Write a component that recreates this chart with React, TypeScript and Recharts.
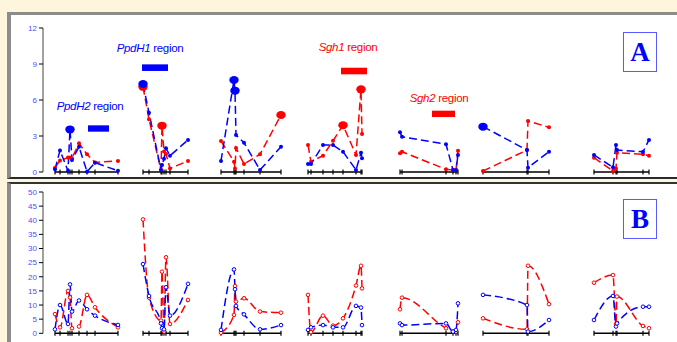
import { LineChart, Line, XAxis, YAxis, ReferenceArea, ReferenceDot } from 'recharts'

const BLUE = '#0000ff'
const RED = '#ff0000'

const chromosomes = ['1H', '2H', '3H', '4H', '5H', '6H', '7H']

// marker positions along the concatenated map, one list per chromosome
const markerPos = [
  [12, 17, 25, 27, 29, 36, 44, 52, 75],
  [100, 106, 118, 119, 121, 123, 127, 145],
  [178, 191, 192, 193, 201, 217, 238],
  [265, 268, 280, 290, 300, 313, 318, 319],
  [357, 359, 403, 410, 413, 415],
  [440, 484, 485, 506],
  [551, 570, 573, 574, 600, 606],
]

// panel A (LOD)
const blueA = [
  [0.22, 1.8, 0.1, 3.55, 1.0, 2.1, 0.03, 0.78, 0.1],
  [7.33, 4.94, 0.17, 0.58, 1.1, 1.97, 1.36, 2.67],
  [0.92, 7.67, 6.78, 3.08, 2.44, 0.17, 2.11],
  [0.67, 0.67, 2.25, 2.25, 1.69, 0.17, 1.61, 1.14],
  [3.31, 2.94, 2.31, 0.17, 0.17, 1.42],
  [3.78, 1.83, 0.36, 1.69],
  [1.42, 0.39, 2.25, 1.83, 1.69, 2.67],
]
const redA = [
  [0.36, 0.95, 1.2, 1.2, 1.15, 2.4, 1.47, 0.8, 0.92],
  [7.1, 4.39, 0.17, 3.86, 1.7, 1.5, 0.3, 0.92],
  [2.58, 0.86, 0.3, 2.0, 0.67, 1.47, 4.75],
  [2.25, 0.86, 1.36, 2.6, 3.9, 1.42, 6.89, 3.17],
  [1.56, 1.69, 0.22, 0.17, 0.17, 1.78],
  [0.08, 1.83, 4.25, 3.72],
  [1.19, 0.08, 0.3, 1.61, 1.47, 1.36],
]
// indices of markers drawn with the large (peak) symbol
const peaksBlueA = [[3], [0], [1, 2], [], [], [0], []]
const peaksRedA = [[], [0, 3], [6], [4, 6], [], [], []]

// panel B (% variance)
const blueB = [
  [1.4, 10.0, 3.3, 17.3, 7.7, 11.6, 8.5, 6.25, 2.95],
  [24.5, 13.2, 3.5, 1.8, 1.4, 16.3, 6.25, 17.5],
  [1.2, 22.6, 15.6, 9.7, 6.7, 1.4, 2.9],
  [1.2, 2.1, 2.9, 2.1, 2.1, 9.7, 9.1, 2.9],
  [3.5, 2.9, 3.5, 0.6, 1.2, 10.6],
  [13.6, 10.0, 0.6, 4.7],
  [4.7, 13.2, 2.4, 3.5, 9.4, 9.4],
]
const redB = [
  [6.8, 2.1, 15.0, 12.7, 1.8, 2.4, 13.6, 9.2, 2.1],
  [40.3, 12.6, 4.5, 21.8, 0.6, 26.9, 3.3, 11.8],
  [0.2, 6.5, 16.7, 11.2, 12.4, 7.7, 7.3],
  [13.6, 0.4, 6.25, 2.7, 5.3, 16.9, 23.9, 15.9],
  [8.5, 12.6, 1.8, 0.6, 0.6, 3.9],
  [5.3, 1.4, 23.9, 10.3],
  [17.9, 20.6, 3.3, 13.0, 2.6, 1.8],
]

const ticksA = [0, 3, 6, 9, 12]
const ticksB = [0, 5, 10, 15, 20, 25, 30, 35, 40, 45, 50]

const regions = [
  { name: 'PpdH2', x1: 45, x2: 66, y1: 3.36, y2: 3.89, textX: 47, textY: 5.17 },
  { name: 'PpdH1', x1: 99, x2: 125, y1: 8.42, y2: 8.97, textX: 107, textY: 10.0 },
  { name: 'Sgh1', x1: 298, x2: 324, y1: 8.14, y2: 8.69, textX: 305, textY: 10.08 },
  { name: 'Sgh2', x1: 389, x2: 412, y1: 4.58, y2: 5.11, textX: 396, textY: 5.83 },
]

interface Row {
  pos: number
  axis: number | null
  blueA: number | null
  redA: number | null
  blueB: number | null
  redB: number | null
  bigBlue: boolean
  bigRed: boolean
}

const rows: Row[] = []
chromosomes.forEach((_, ci) => {
  markerPos[ci].forEach((p, mi) => {
    rows.push({
      pos: p,
      axis: 0,
      blueA: blueA[ci][mi],
      redA: redA[ci][mi],
      blueB: blueB[ci][mi],
      redB: redB[ci][mi],
      bigBlue: peaksBlueA[ci].includes(mi),
      bigRed: peaksRedA[ci].includes(mi),
    })
  })
  if (ci < chromosomes.length - 1) {
    const last = markerPos[ci][markerPos[ci].length - 1]
    const next = markerPos[ci + 1][0]
    rows.push({
      pos: (last + next) / 2, axis: null, blueA: null, redA: null,
      blueB: null, redB: null, bigBlue: false, bigRed: false,
    })
  }
})

function filledDot(color: string, bigKey: 'bigBlue' | 'bigRed') {
  return (props: any) => {
    const { cx, cy, payload, index, value } = props
    if (cx == null || cy == null || value == null) return <g key={index} />
    if (payload[bigKey]) {
      return <ellipse key={index} cx={cx} cy={cy} rx={4.7} ry={4} fill={color} />
    }
    return <circle key={index} cx={cx} cy={cy} r={2} fill={color} />
  }
}

function openDot(color: string) {
  return (props: any) => {
    const { cx, cy, index, value } = props
    if (cx == null || cy == null || value == null) return <g key={index} />
    return <circle key={index} cx={cx} cy={cy} r={1.8} fill="#fff" stroke={color} strokeWidth={1} />
  }
}

function markerTick(props: any) {
  const { cx, cy, index, value } = props
  if (cx == null || cy == null || value == null) return <g key={index} />
  return <line key={index} x1={cx} x2={cx} y1={cy - 2.5} y2={cy + 2.5} stroke="#000" strokeWidth={1.2} />
}

const yTick = { fill: '#4d4dff', fontSize: 8, fontFamily: 'Arial, "Liberation Sans", sans-serif' }

function PanelLabel({ text, top }: { text: string; top: number }) {
  return (
    <div
      style={{
        position: 'absolute', left: 623, top, width: 34, height: 40,
        boxSizing: 'border-box', border: '1.5px solid #5a5aff', background: '#fff',
        display: 'flex', alignItems: 'center', justifyContent: 'center',
        fontFamily: '"Liberation Serif", "Times New Roman", serif', fontWeight: 'bold',
        fontSize: 27, color: BLUE, lineHeight: 1,
      }}
    >
      {text}
    </div>
  )
}

function BaselineAndSeries(kind: 'A' | 'B') {
  return [
    <Line key="axis" dataKey="axis" stroke="#000" strokeWidth={1.4} dot={markerTick}
      activeDot={false} isAnimationActive={false} connectNulls={false} />,
    <Line key="red" dataKey={kind === 'A' ? 'redA' : 'redB'} type={kind === 'A' ? 'linear' : 'monotone'}
      stroke={RED} strokeWidth={1.5} strokeDasharray="8 4"
      dot={kind === 'A' ? filledDot(RED, 'bigRed') : openDot(RED)}
      activeDot={false} isAnimationActive={false} connectNulls={false} />,
    <Line key="blue" dataKey={kind === 'A' ? 'blueA' : 'blueB'} type={kind === 'A' ? 'linear' : 'monotone'}
      stroke={BLUE} strokeWidth={1.5} strokeDasharray="8 4"
      dot={kind === 'A' ? filledDot(BLUE, 'bigBlue') : openDot(BLUE)}
      activeDot={false} isAnimationActive={false} connectNulls={false} />,
  ]
}

export default function App() {
  return (
    <div
      style={{
        position: 'fixed', left: 0, top: 0, width: 677, height: 342, overflow: 'hidden',
        background: '#fdf5dc', fontFamily: 'Arial, "Liberation Sans", sans-serif',
      }}
    >
      <div style={{
        position: 'absolute', left: 7, top: 12, right: 0, height: 167, boxSizing: 'border-box',
        background: '#fff', borderTop: '3px solid #8c8c8c', borderLeft: '4px solid #8c8c8c',
        borderBottom: '2px solid #2a2a2a',
      }} />
      <div style={{
        position: 'absolute', left: 7, top: 182, right: 0, bottom: 0, boxSizing: 'border-box',
        background: '#fff', borderTop: '2px solid #333', borderLeft: '4px solid #8c8c8c',
      }} />

      <div style={{ position: 'absolute', left: 0, top: 0 }}>
        <LineChart width={677} height={180} data={rows} margin={{ top: 28, right: 0, bottom: 8, left: 0 }}>
          <XAxis dataKey="pos" type="number" domain={[0, 634]} hide />
          <YAxis type="number" domain={[0, 12]} ticks={ticksA} width={43} tickSize={4}
            axisLine={{ stroke: '#444' }} tickLine={{ stroke: '#000' }} tick={yTick} interval={0} />
          {regions.map(r => (
            <ReferenceArea key={r.name} x1={r.x1} x2={r.x2} y1={r.y1} y2={r.y2}
              fill={r.name.startsWith('Ppd') ? BLUE : RED} fillOpacity={1} stroke="none" />
          ))}
          {regions.map(r => (
            <ReferenceDot key={r.name + '-t'} x={r.textX} y={r.textY} r={0}
              shape={(p: any) => (
                <text x={p.cx} y={p.cy} textAnchor="middle" fontSize={11.5} letterSpacing={-0.3}
                  fill={r.name.startsWith('Ppd') ? BLUE : RED}>
                  <tspan fontStyle="italic">{r.name}</tspan>
                  <tspan> region</tspan>
                </text>
              )} />
          ))}
          {BaselineAndSeries('A')}
        </LineChart>
      </div>

      <div style={{ position: 'absolute', left: 0, top: 180 }}>
        <LineChart width={677} height={162} data={rows} margin={{ top: 12, right: 0, bottom: 8.7, left: 0 }}>
          <XAxis dataKey="pos" type="number" domain={[0, 634]} hide />
          <YAxis type="number" domain={[0, 50]} ticks={ticksB} width={43} tickSize={4}
            axisLine={{ stroke: '#444' }} tickLine={{ stroke: '#000' }} tick={yTick} interval={0} />
          {BaselineAndSeries('B')}
        </LineChart>
      </div>

      <PanelLabel text="A" top={32} />
      <PanelLabel text="B" top={199} />
    </div>
  )
}
